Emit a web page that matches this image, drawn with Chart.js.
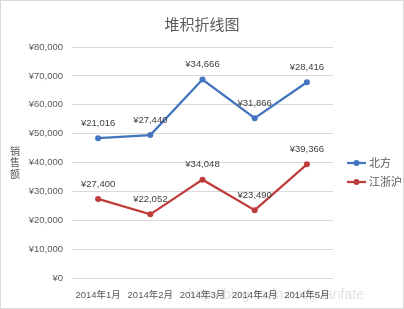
<!DOCTYPE html>
<html>
<head>
<meta charset="utf-8">
<script src="https://cdn.jsdelivr.net/npm/chart.js@4.4.0/dist/chart.umd.min.js"></script>
<style>
  html, body { margin: 0; padding: 0; background: #fff; }
  #wrap { width: 404px; height: 309px; position: relative; }
</style>
</head>
<body>
<div id="wrap"><canvas id="chart" width="404" height="309"></canvas></div>
<script>
const months = ["2014年1月", "2014年2月", "2014年3月", "2014年4月", "2014年5月"]
const north = [21016, 27440, 34666, 31866, 28416]
const jzh = [27400, 22052, 34048, 23490, 39366]
const seriesNames = ["北方", "江浙沪"]
const title = "堆积折线图"
const yTitle = ["销", "售", "额"]

const blue = "#4275be"
const red = "#be3d3a"
const txt = "#595959"
const font = '"Liberation Sans", "Noto Sans CJK SC", sans-serif'
const cjk = '"Noto Sans CJK SC", sans-serif'

const money = v => "¥" + v.toLocaleString("en-US")

// title, axis title, legend, point labels, frame
const extras = {
    id: "extras",
    afterDraw(chart){
        const ctx = chart.ctx
        ctx.save()
        ctx.strokeStyle = "#d9d9d9"
        ctx.lineWidth = 1
        ctx.strokeRect(0.5, 0.5, 403, 308)

        ctx.fillStyle = txt
        ctx.textAlign = "center"
        ctx.textBaseline = "middle"
        ctx.font = "15px " + cjk
        ctx.fillText(title, 202, 24)

        // vertical axis title, one character per line
        ctx.font = "10px " + cjk
        for (let i = 0; i < yTitle.length; i++) {
            ctx.fillText(yTitle[i], 15, 151 + i * 11.5)
        }

        // value labels above every point (raw value, not stacked)
        ctx.fillStyle = "#404040"
        ctx.font = "9.5px " + font
        chart.data.datasets.forEach((ds, di) => {
            chart.getDatasetMeta(di).data.forEach((pt, i) => {
                ctx.fillText(money(ds.data[i]), pt.x, pt.y - 15)
            })
        })

        // legend
        const items = [[seriesNames[0], blue, 163], [seriesNames[1], red, 182]]
        items.forEach(([name, col, y]) => {
            ctx.strokeStyle = col
            ctx.lineWidth = 2.25
            ctx.beginPath()
            ctx.moveTo(347, y)
            ctx.lineTo(366, y)
            ctx.stroke()
            ctx.fillStyle = col
            ctx.beginPath()
            ctx.arc(356.5, y, 3, 0, Math.PI * 2)
            ctx.fill()
            ctx.fillStyle = txt
            ctx.textAlign = "left"
            ctx.font = "11px " + cjk
            ctx.fillText(name, 369, y)
        })

        // watermark
        ctx.fillStyle = "rgba(0,0,0,0.12)"
        ctx.font = "14px " + font
        ctx.textAlign = "left"
        ctx.fillText("http://blog.csdn.net/yuanfate", 188, 295)
        ctx.restore()
    }
}

new Chart(document.getElementById("chart"), {
    type: "line",
    data: {
        labels: months,
        datasets: [
            {
                label: seriesNames[1],
                data: jzh,
                borderColor: red,
                backgroundColor: red,
                borderWidth: 2.25,
                pointRadius: 3,
                pointBorderWidth: 0,
                tension: 0,
                fill: false
            },
            {
                label: seriesNames[0],
                data: north,
                borderColor: blue,
                backgroundColor: blue,
                borderWidth: 2.25,
                pointRadius: 3,
                pointBorderWidth: 0,
                tension: 0,
                fill: false
            }
        ]
    },
    options: {
        responsive: false,
        animation: false,
        layout: { padding: { top: 47, right: 71, bottom: 0, left: 0 } },
        plugins: { legend: { display: false }, tooltip: { enabled: false } },
        scales: {
            x: {
                offset: true,
                grid: { display: false, drawTicks: false },
                border: { display: false },
                ticks: { color: txt, font: { family: font, size: 9.5 }, padding: 12, maxRotation: 0, autoSkip: false },
                afterFit: s => { s.height = 31 }
            },
            y: {
                stacked: true,
                min: 0,
                max: 80000,
                grid: { color: "#d9d9d9", drawTicks: false },
                border: { display: false },
                ticks: { stepSize: 10000, color: txt, font: { family: font, size: 9.5 }, padding: 9, callback: v => money(v) },
                afterFit: s => { s.width = 72 }
            }
        }
    },
    plugins: [extras]
})
</script>
</body>
</html>
